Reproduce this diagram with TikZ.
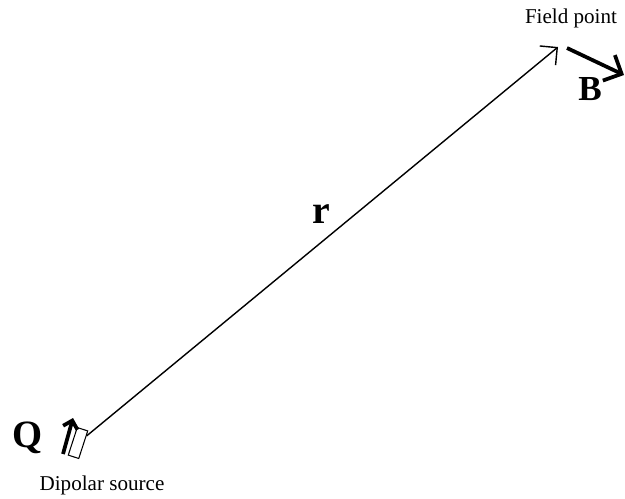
\documentclass[tikz,border=0pt]{standalone}
\usepackage{fontspec}
\setmainfont{Liberation Serif}
\usetikzlibrary{arrows.meta, positioning}

\begin{document}
\begin{tikzpicture}[x=0.03cm, y=-0.03cm,
  lab/.style={font=\fontsize{18}{20}\selectfont, inner sep=0pt},
  big/.style={font=\fontsize{#1}{#1}\selectfont\bfseries, inner sep=0pt},
  source/.style={draw=black, line width=0.9pt, rotate=-18,
                 minimum width=0.33cm, minimum height=0.87cm, inner sep=0pt},
  rvec/.style={-{Straight Barb[angle=90:15pt]}, line width=1.2pt},
  fatarrow/.style={-{Straight Barb[angle=90:#1]}, line width=3.2pt}
]

\useasboundingbox (0,0) rectangle (625,498);

% Source and field point
\node[source] (src) at (78,443) {};
\coordinate (fieldpt) at (558,47);
\draw[rvec] (src) -- (fieldpt);

% Vectors
\coordinate (qtail) at (63,454);
\coordinate (qtip) at (73,418);
\draw[fatarrow=9pt] (qtail) -- (qtip);
\coordinate (btail) at (567,48);
\coordinate (btip) at (624,75);
\draw[fatarrow=17pt] (btail) -- (btip);

% Labels
\node[big=33] (qlab) at (28,438) {Q};
\node[big=30] (blab) at (590,89) {B};
\node[big=34] (rlab) at (321,214) {r};
\node[lab] (srclab) at (102,485) {Dipolar source};
\node[lab] (fplab) at (571,18) {Field point};

\end{tikzpicture}
\end{document}
